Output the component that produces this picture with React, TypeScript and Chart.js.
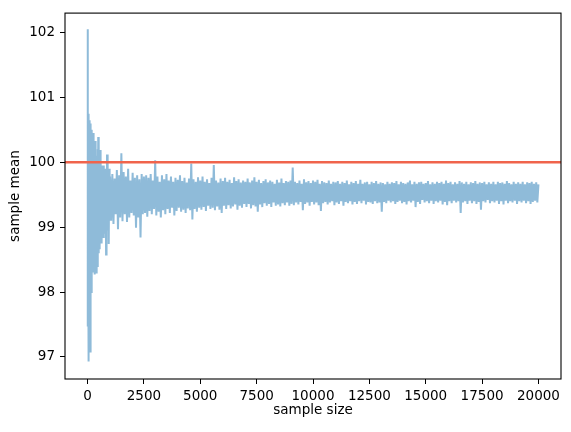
import React, { useEffect, useRef } from "react";
import { Chart, registerables } from "chart.js";

Chart.register(...registerables);

// Sample sizes and sample means for the first ~1000 draws
const earlySizes = [
  1, 4, 8, 12, 16, 22, 30, 38, 46, 55, 62, 70, 78, 88, 96, 104, 112, 120, 130, 140,
  150, 160, 172, 184, 196, 208, 220, 232, 244, 256, 268, 280, 292, 304, 316, 328, 340, 352, 364, 376,
  390, 404, 418, 432, 446, 460, 474, 488, 502, 516, 530, 544, 558, 572, 586, 600, 616, 632, 648, 664,
  680, 696, 712, 728, 744, 760, 776, 792, 808, 822, 836, 850, 864, 878, 892, 906, 920, 940, 960, 980,
];
const earlyMeans = [
  97.47, 102.05, 100.4, 99.2, 100.79, 99.5, 100.7, 97.5, 100.2, 96.93, 100.75, 98.0, 100.5, 98.5, 100.65, 97.5, 100.3, 97.07, 100.6, 98.1,
  100.59, 98.0, 100.4, 98.4, 100.5, 98.5, 100.3, 98.45, 100.45, 98.35, 100.2, 98.3, 100.33, 98.6, 100.1, 98.27, 100.33, 98.5, 100.0, 98.3,
  100.1, 98.6, 99.95, 98.4, 100.2, 98.7, 100.39, 98.6, 100.3, 98.8, 100.0, 98.66, 100.19, 98.8, 100.05, 98.9, 99.9, 98.75, 99.95, 99.0,
  99.85, 98.85, 99.95, 99.05, 99.9, 98.9, 99.85, 99.0, 99.8, 98.58, 99.9, 99.05, 100.12, 99.1, 99.85, 98.95, 99.8, 98.74, 99.9, 99.1,
];

// Sample sizes 1000..2500 every 50
const midStart = 1000;
const midStep = 50;
const midMeans = [
  99.78, 99.10, 99.82, 99.05, 99.75, 99.20, 99.88, 98.97, 99.80, 99.15,
  100.14, 99.09, 99.85, 99.20, 99.78, 99.08, 99.90, 99.15, 99.72, 99.22,
  99.84, 99.18, 99.76, 98.99, 99.80, 99.15, 99.74, 98.84, 99.82, 99.20,
  99.78,
];

// Sample sizes 2550..20000 every 50
const lateStart = 2550;
const lateStep = 50;
const lateMeans = [
  99.22, 99.80, 99.16, 99.76, 99.25, 99.82, 99.20, 99.72, 99.28, 100.03,
  99.18, 99.78, 99.24, 99.70, 99.15, 99.80, 99.26, 99.74, 99.20, 99.82,
  99.28, 99.72, 99.22, 99.78, 99.30, 99.70, 99.18, 99.76, 99.25, 99.73,
  99.30, 99.80, 99.24, 99.71, 99.27, 99.76, 99.22, 99.69, 99.29, 99.75,
  99.26, 99.98, 99.12, 99.74, 99.28, 99.70, 99.24, 99.77, 99.30, 99.72,
  99.27, 99.78, 99.31, 99.70, 99.25, 99.74, 99.33, 99.68, 99.28, 99.76,
  99.30, 99.96, 99.26, 99.72, 99.32, 99.69, 99.27, 99.75, 99.22, 99.71,
  99.33, 99.76, 99.28, 99.70, 99.34, 99.73, 99.29, 99.68, 99.32, 99.77,
  99.35, 99.71, 99.27, 99.74, 99.33, 99.69, 99.30, 99.72, 99.36, 99.70,
  99.31, 99.75, 99.36, 99.69, 99.29, 99.72, 99.34, 99.77, 99.32, 99.70,
  99.24, 99.73, 99.35, 99.68, 99.31, 99.71, 99.37, 99.74, 99.33, 99.69,
  99.36, 99.72, 99.31, 99.70, 99.38, 99.67, 99.33, 99.73, 99.35, 99.69,
  99.32, 99.75, 99.37, 99.68, 99.34, 99.71, 99.38, 99.70, 99.33, 99.72,
  99.36, 99.92, 99.34, 99.70, 99.38, 99.68, 99.35, 99.72, 99.39, 99.67,
  99.26, 99.74, 99.36, 99.69, 99.38, 99.71, 99.33, 99.68, 99.39, 99.72,
  99.35, 99.70, 99.38, 99.73, 99.34, 99.67, 99.25, 99.71, 99.37, 99.69,
  99.39, 99.68, 99.35, 99.72, 99.38, 99.67, 99.40, 99.70, 99.34, 99.69,
  99.38, 99.71, 99.36, 99.67, 99.40, 99.70, 99.33, 99.68, 99.39, 99.72,
  99.37, 99.66, 99.40, 99.70, 99.35, 99.68, 99.39, 99.71, 99.36, 99.67,
  99.40, 99.73, 99.37, 99.67, 99.41, 99.69, 99.35, 99.70, 99.39, 99.66,
  99.38, 99.70, 99.36, 99.68, 99.40, 99.71, 99.37, 99.67, 99.38, 99.69,
  99.24, 99.68, 99.39, 99.66, 99.37, 99.70, 99.41, 99.67, 99.38, 99.69,
  99.40, 99.68, 99.36, 99.71, 99.39, 99.66, 99.41, 99.70, 99.37, 99.68,
  99.39, 99.67, 99.35, 99.69, 99.40, 99.72, 99.38, 99.66, 99.41, 99.70,
  99.31, 99.67, 99.39, 99.69, 99.36, 99.70, 99.42, 99.67, 99.38, 99.68,
  99.40, 99.71, 99.37, 99.66, 99.41, 99.69, 99.36, 99.67, 99.40, 99.70,
  99.38, 99.68, 99.41, 99.70, 99.35, 99.67, 99.39, 99.72, 99.34, 99.68,
  99.40, 99.70, 99.37, 99.66, 99.41, 99.69, 99.38, 99.67, 99.40, 99.71,
  99.22, 99.69, 99.38, 99.67, 99.40, 99.70, 99.36, 99.66, 99.41, 99.69,
  99.37, 99.68, 99.40, 99.71, 99.36, 99.67, 99.39, 99.69, 99.27, 99.68,
  99.40, 99.70, 99.38, 99.66, 99.42, 99.69, 99.37, 99.67, 99.40, 99.70,
  99.38, 99.66, 99.41, 99.70, 99.36, 99.68, 99.40, 99.69, 99.35, 99.67,
  99.41, 99.71, 99.37, 99.68, 99.40, 99.66, 99.38, 99.70, 99.41, 99.67,
  99.36, 99.69, 99.40, 99.67, 99.38, 99.70, 99.41, 99.66, 99.37, 99.69,
  99.40, 99.68, 99.36, 99.70, 99.39, 99.67, 99.41, 99.69, 99.38, 99.66,
];

const populationMean = 100;

const xTicks = [0, 2500, 5000, 7500, 10000, 12500, 15000, 17500, 20000];
const yTicks = [97, 98, 99, 100, 101, 102];
const xLimits = [-1000, 21000];
const yLimits = [96.66, 102.3];

const framePlugin = {
  id: "frame",
  afterDatasetsDraw(chart: any) {
    const { ctx, chartArea } = chart;
    ctx.save();
    ctx.strokeStyle = "#000";
    ctx.lineWidth = 1.1;
    ctx.strokeRect(chartArea.left, chartArea.top, chartArea.right - chartArea.left, chartArea.bottom - chartArea.top);
    ctx.restore();
  },
};

export default function App() {
  const ref = useRef<HTMLCanvasElement | null>(null);

  useEffect(() => {
    if (!ref.current) return;
    const points: { x: number; y: number }[] = [];
    earlySizes.forEach((n, i) => points.push({ x: n, y: earlyMeans[i] }));
    midMeans.forEach((v, i) => points.push({ x: midStart + i * midStep, y: v }));
    lateMeans.forEach((v, i) => points.push({ x: lateStart + i * lateStep, y: v }));

    const font = { family: "DejaVu Sans", size: 13.5 };

    const chart = new Chart(ref.current, {
      type: "line",
      data: {
        datasets: [
          {
            data: [
              { x: xLimits[0], y: populationMean },
              { x: xLimits[1], y: populationMean },
            ],
            borderColor: "rgb(240,100,76)",
            borderWidth: 2.6,
            pointRadius: 0,
            order: 0,
          },
          {
            data: points,
            borderColor: "rgb(143,187,217)",
            borderWidth: 2,
            pointRadius: 0,
            tension: 0,
            order: 1,
          },
        ],
      },
      options: {
        animation: false,
        responsive: false,
        events: [],
        layout: { padding: { left: 0, top: 10, right: 10, bottom: 0 } },
        plugins: { legend: { display: false }, tooltip: { enabled: false } },
        scales: {
          x: {
            type: "linear",
            min: xLimits[0],
            max: xLimits[1],
            afterBuildTicks: (s: any) => {
              s.ticks = xTicks.map((v) => ({ value: v }));
            },
            afterFit: (s: any) => {
              s.height = 53;
            },
            ticks: { color: "#000", font, padding: 4, maxRotation: 0, autoSkip: false, callback: (v: any) => String(v) },
            grid: { display: true, drawOnChartArea: false, drawTicks: true, tickLength: 5, color: "#000", lineWidth: 1 },
            border: { display: false },
            title: { display: true, text: "sample size", color: "#000", font, padding: { top: 0, bottom: 13 } },
          },
          y: {
            type: "linear",
            min: yLimits[0],
            max: yLimits[1],
            afterBuildTicks: (s: any) => {
              s.ticks = yTicks.map((v) => ({ value: v }));
            },
            afterFit: (s: any) => {
              s.width = 65;
            },
            ticks: { color: "#000", font, padding: 5, autoSkip: false, callback: (v: any) => String(v) },
            grid: { display: true, drawOnChartArea: false, drawTicks: true, tickLength: 5, color: "#000", lineWidth: 1 },
            border: { display: false },
            title: { display: true, text: "sample mean", color: "#000", font, padding: { top: 7, bottom: 0 } },
          },
        },
      },
      plugins: [framePlugin],
    });
    return () => chart.destroy();
  }, []);

  return (
    <div style={{ position: "fixed", left: 0, top: 0, width: 571, height: 432, background: "#fff" }}>
      <canvas ref={ref} width={571} height={432} style={{ width: 571, height: 432, display: "block" }} />
    </div>
  );
}
